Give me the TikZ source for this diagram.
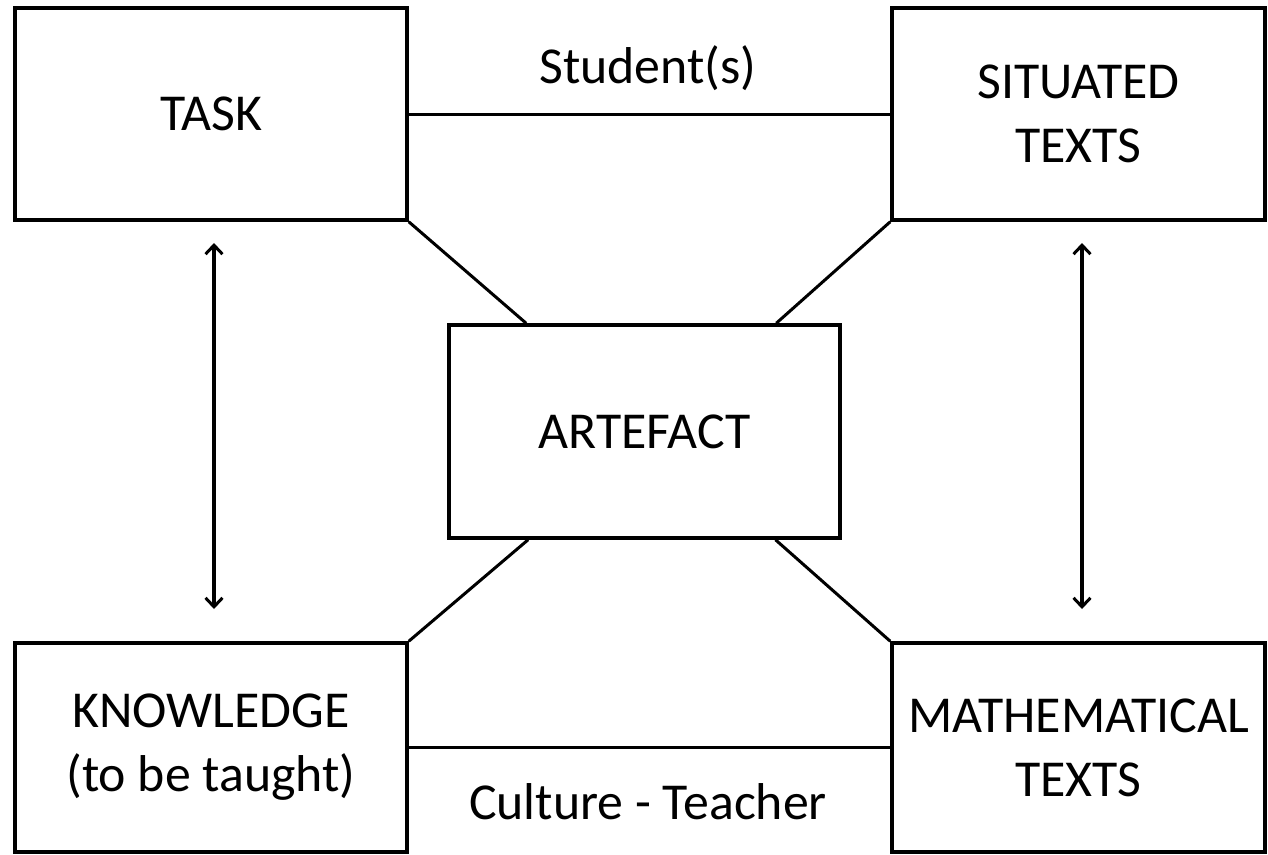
\documentclass[tikz,border=0pt]{standalone}
\usepackage{fontspec}
\setmainfont{Carlito}
\usetikzlibrary{calc,arrows.meta}
\tikzset{
  boxnode/.style={draw, line width=3.5bp, minimum width=#1, inner sep=0pt, align=center,
    font=\fontsize{52}{64}\selectfont},
  link/.style={line width=3bp},
  dblarrow/.style={line width=3.5bp, {Straight Barb[length=9bp,width=17bp,line width=3bp]}-{Straight Barb[length=9bp,width=17bp,line width=3bp]}},
  lbl/.style={inner sep=0pt, font=\fontsize{52}{64}\selectfont}
}
\begin{document}
\begin{tikzpicture}[x=1bp,y=-1bp]
\useasboundingbox (0,0) rectangle (1268,855);
\node[boxnode=392bp, minimum height=212bp] (task) at (211,114) {TASK};
\node[boxnode=373bp, minimum height=212bp] (sit) at (1078.5,114) {SITUATED\\TEXTS};
\node[boxnode=391bp, minimum height=213bp] (art) at (644.5,431.5) {ARTEFACT};
\node[boxnode=392bp, minimum height=209bp] (know) at (211,747.5) {KNOWLEDGE\\(to be taught)};
\node[boxnode=373bp, minimum height=209bp] (math) at (1078.5,747.5) {MATHEMATICAL\\TEXTS};

\draw[link] (task.east) -- (sit.west);
\draw[link] (know.east) -- (math.west);
\draw[link] (task.south east) -- ($(art.north west)!0.2!(art.north east)$);
\draw[link] (sit.south west) -- ($(art.north west)!0.834!(art.north east)$);
\draw[link] (know.north east) -- ($(art.south west)!0.205!(art.south east)$);
\draw[link] (math.north west) -- ($(art.south west)!0.832!(art.south east)$);

\node[lbl] (stud) at (648,68) {Student(s)};
\node[lbl] (cult) at (648,802) {Culture - Teacher};

\coordinate (a1) at (214,243);
\coordinate (a2) at (214,609);
\coordinate (b1) at (1082,243);
\coordinate (b2) at (1082,609);
\draw[dblarrow] (a1) -- (a2);
\draw[dblarrow] (b1) -- (b2);
\end{tikzpicture}
\end{document}
